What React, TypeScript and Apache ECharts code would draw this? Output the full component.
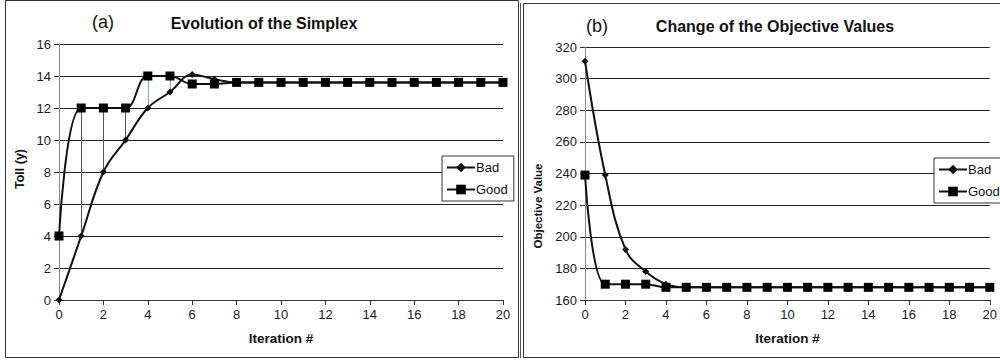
import React, { useEffect, useRef } from "react";
import * as echarts from "echarts";

const iterations = [0, 1, 2, 3, 4, 5, 6, 7, 8, 9, 10, 11, 12, 13, 14, 15, 16, 17, 18, 19, 20];
const tollBad = [0, 4, 8, 10, 12, 13, 14.1, 13.8, 13.6, 13.6, 13.6, 13.6, 13.6, 13.6, 13.6, 13.6, 13.6, 13.6, 13.6, 13.6, 13.6];
const tollGood = [4, 12, 12, 12, 14, 14, 13.5, 13.5, 13.6, 13.6, 13.6, 13.6, 13.6, 13.6, 13.6, 13.6, 13.6, 13.6, 13.6, 13.6, 13.6];
const objBad = [311, 239, 192, 178, 170, 168, 168, 168, 168, 168, 168, 168, 168, 168, 168, 168, 168, 168, 168, 168, 168];
const objGood = [239, 170, 170, 170, 168, 168, 168, 168, 168, 168, 168, 168, 168, 168, 168, 168, 168, 168, 168, 168, 168];
const dropIterations = [1, 2, 3, 4, 5];
const dropColors = ["#555555", "#555555", "#555555", "#7fa6cf", "#7fa6cf"];

const FONT = 'Arial, "Liberation Sans", sans-serif';

export default function App() {
  const ref = useRef<HTMLDivElement>(null);
  useEffect(() => {
    const chart = echarts.init(ref.current!, null, { renderer: "svg" });
    const pair = (xs: number[], ys: number[]) => xs.map((x, i) => [x, ys[i]]);
    const axisLabel = { fontFamily: FONT, fontSize: 13, color: "#1a1a2a", margin: 8 };
    const xAxisBase = {
      type: "value",
      min: 0,
      max: 20,
      interval: 2,
      axisLine: { show: true, lineStyle: { color: "#333", width: 1 } },
      axisTick: { show: true, inside: false, length: 5, lineStyle: { color: "#333" } },
      splitLine: { show: false },
      axisLabel,
      name: "Iteration #",
      nameLocation: "middle",
      nameGap: 31,
      nameTextStyle: { fontFamily: FONT, fontSize: 13.5, fontWeight: "bold", color: "#111" },
    };
    const yAxisBase = {
      type: "value",
      axisLine: { show: true, lineStyle: { color: "#888", width: 1 } },
      axisTick: { show: true, inside: false, length: 5, lineStyle: { color: "#333" } },
      splitLine: { show: true, lineStyle: { color: "#222", width: 1 } },
      axisLabel,
    };
    const badStyle = {
      type: "line",
      smooth: 0.4,
      symbol: "diamond",
      symbolSize: 7,
      lineStyle: { color: "#111", width: 2 },
      itemStyle: { color: "#111" },
      z: 3,
    };
    const goodStyle = {
      type: "line",
      smooth: 0.4,
      symbol: "rect",
      symbolSize: 9,
      lineStyle: { color: "#111", width: 2 },
      itemStyle: { color: "#000" },
      z: 4,
    };
    const dropLines = dropIterations.map((it, k) => {
      const i = iterations.indexOf(it);
      return [
        { coord: [it, tollGood[i]], lineStyle: { color: dropColors[k], width: 1, type: "solid" } },
        { coord: [it, tollBad[i]] },
      ];
    });
    const legendBase = {
      orient: "vertical",
      data: ["Bad", "Good"],
      backgroundColor: "#fff",
      borderColor: "#333",
      borderWidth: 1,
      borderRadius: 0,
      padding: [5, 6, 5, 4],
      itemWidth: 28,
      itemHeight: 12,
      itemGap: 9,
      textStyle: { fontFamily: FONT, fontSize: 13, color: "#111", padding: [0, 0, 0, -4] },
      selectedMode: false,
    };
    chart.setOption({
      animation: false,
      backgroundColor: "#fff",
      grid: [
        { left: 59, top: 44, width: 444, height: 256 },
        { left: 585, top: 47, width: 408, height: 253 },
      ],
      xAxis: [
        { ...xAxisBase, gridIndex: 0 },
        { ...xAxisBase, gridIndex: 1 },
      ],
      yAxis: [
        { ...yAxisBase, gridIndex: 0, min: 0, max: 16, interval: 2 },
        { ...yAxisBase, gridIndex: 1, min: 160, max: 320, interval: 20 },
      ],
      legend: [
        { ...legendBase, left: 442, top: 156 },
        { ...legendBase, left: 934, top: 158 },
      ],
      series: [
        { ...badStyle, name: "Bad", xAxisIndex: 0, yAxisIndex: 0, data: pair(iterations, tollBad) },
        {
          ...goodStyle,
          name: "Good",
          xAxisIndex: 0,
          yAxisIndex: 0,
          data: pair(iterations, tollGood),
          markLine: { silent: true, symbol: "none", label: { show: false }, data: dropLines, z: 1 },
        },
        { ...badStyle, name: "Bad", xAxisIndex: 1, yAxisIndex: 1, data: pair(iterations, objBad) },
        { ...goodStyle, name: "Good", xAxisIndex: 1, yAxisIndex: 1, data: pair(iterations, objGood) },
      ],
      graphic: [
        { type: "rect", shape: { x: 5.5, y: 0.5, width: 513, height: 357 }, style: { fill: "none", stroke: "#333", lineWidth: 1 }, silent: true, z: -1 },
        { type: "line", shape: { x1: 520.5, y1: 3, x2: 520.5, y2: 358 }, style: { stroke: "#555", lineWidth: 1 }, silent: true },
        { type: "rect", shape: { x: 523.5, y: 3.5, width: 480, height: 354 }, style: { fill: "none", stroke: "#333", lineWidth: 1 }, silent: true, z: -1 },
        { type: "text", x: 103, y: 22, style: { text: "(a)", font: `18px ${FONT}`, fill: "#111", textAlign: "center", textVerticalAlign: "middle" } },
        { type: "text", x: 264, y: 23, style: { text: "Evolution of the Simplex", font: `bold 16px ${FONT}`, fill: "#111", textAlign: "center", textVerticalAlign: "middle" } },
        { type: "text", x: 597, y: 26, style: { text: "(b)", font: `18px ${FONT}`, fill: "#111", textAlign: "center", textVerticalAlign: "middle" } },
        { type: "text", x: 775, y: 26, style: { text: "Change of the Objective Values", font: `bold 16px ${FONT}`, fill: "#111", textAlign: "center", textVerticalAlign: "middle" } },
        { type: "text", x: 20, y: 169, rotation: Math.PI / 2, style: { text: "Toll (y)", font: `bold 12.5px ${FONT}`, fill: "#111", textAlign: "center", textVerticalAlign: "middle" } },
        { type: "text", x: 538, y: 206, rotation: Math.PI / 2, style: { text: "Objective Value", font: `bold 11.5px ${FONT}`, fill: "#111", textAlign: "center", textVerticalAlign: "middle" } },
      ],
    });
    return () => chart.dispose();
  }, []);
  return <div ref={ref} style={{ position: "absolute", left: 0, top: 0, width: 1000, height: 360 }} />;
}
